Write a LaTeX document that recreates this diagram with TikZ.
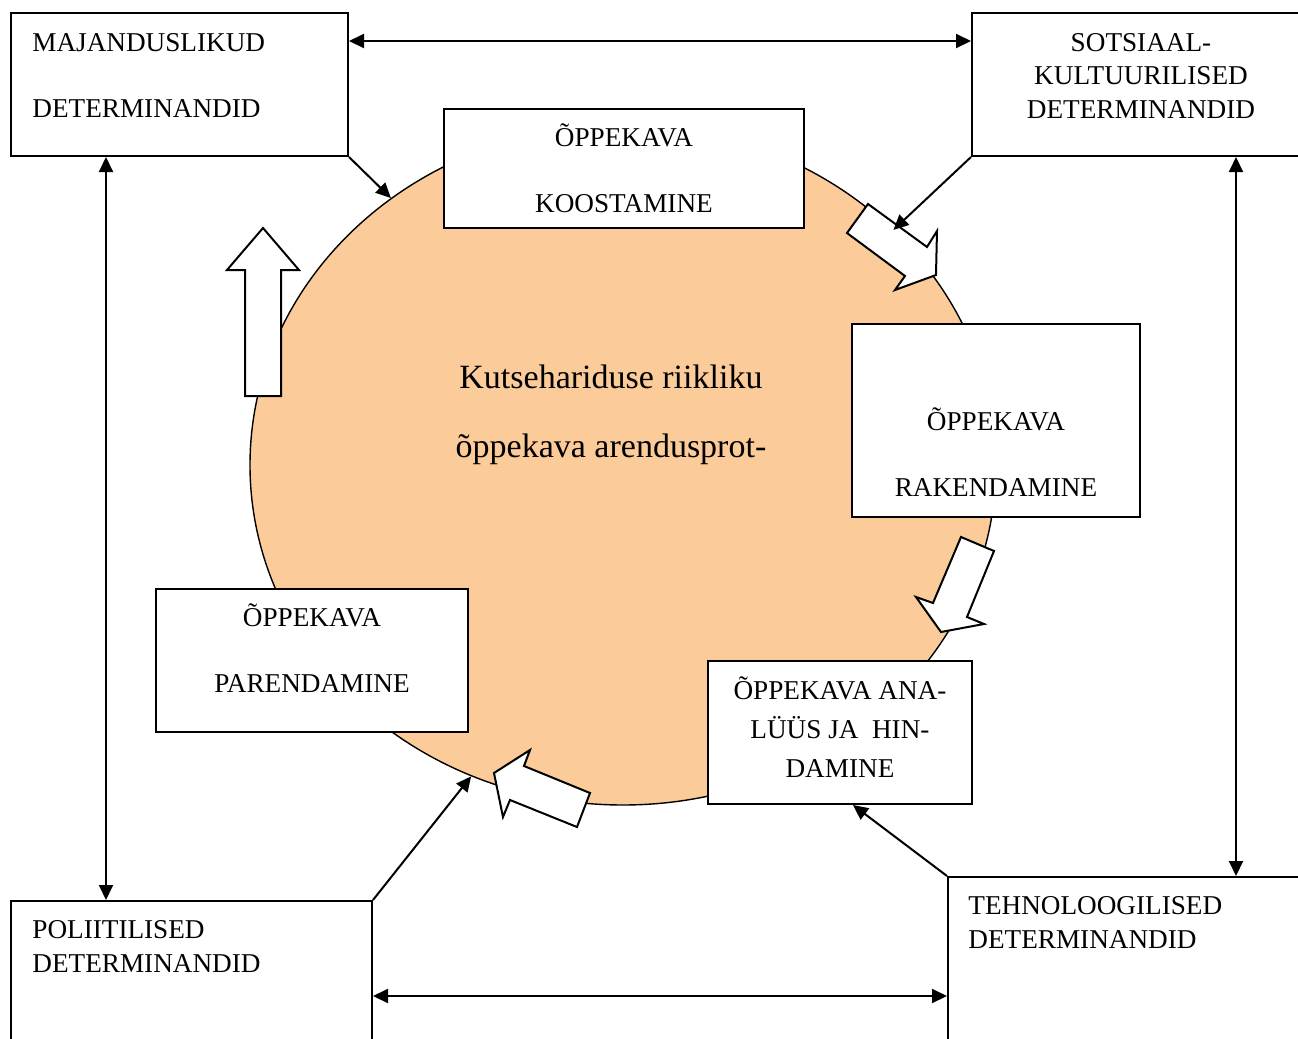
\documentclass[tikz,border=0pt]{standalone}
\usepackage{fontspec}
\setmainfont{Liberation Serif}
\usetikzlibrary{arrows.meta,shapes.geometric}
\definecolor{peach}{RGB}{251,203,153}

\begin{document}
\begin{tikzpicture}[x=0.5pt,y=-0.5pt,
  box/.style={draw,fill=white,line width=1pt,anchor=north west,inner sep=0pt},
  txt/.style={inner sep=0pt,anchor=base,align=center,font=\fontsize{13.6}{33}\selectfont},
  tight/.style={font=\fontsize{13.6}{16.75}\selectfont},
  link/.style={line width=1pt,-{Triangle[length=7.5pt,width=7pt]}},
  both/.style={line width=1pt,{Triangle[length=7.5pt,width=7pt]}-{Triangle[length=7.5pt,width=7pt]}},
  flow/.style={draw,fill=white,line width=1pt,line join=miter}]
  \useasboundingbox (0,0) rectangle (1298,1039);

  \node[ellipse,draw,fill=peach,line width=0.7pt,inner sep=0pt,
        minimum width=373pt,minimum height=340pt] (proc) at (623,465) {};

  % determinants and steps
  \node[box,minimum width=168.5pt,minimum height=71.5pt] (maj) at (10,12) {};
  \node[box,minimum width=169pt,minimum height=71.5pt] (sots) at (971,12) {};
  \node[box,minimum width=180pt,minimum height=59.5pt] (koost) at (443,108) {};
  \node[box,minimum width=144pt,minimum height=96.5pt] (rakend) at (851,323) {};
  \node[box,minimum width=132pt,minimum height=71.5pt] (anal) at (707,660) {};
  \node[box,minimum width=156pt,minimum height=71.5pt] (parend) at (155,588) {};
  \node[box,minimum width=180.5pt,minimum height=75pt] (poliit) at (10,900) {};
  \node[box,minimum width=181pt,minimum height=90pt] (tehno) at (947,876) {};

  % cycle arrows
  \draw[flow] (245,396) -- (245,270) -- (227,270) -- (263,228) -- (299,270) -- (281,270) -- (281,396) -- cycle;
  \draw[flow] (868,204) -- (927,247) -- (937,231) -- (936,275) -- (895,290) -- (905,276) -- (847,233) -- cycle;
  \draw[flow] (961,537) -- (994,551) -- (967,617) -- (984,624) -- (941,632) -- (916,597) -- (933,603) -- cycle;
  \draw[flow] (494,773) -- (530,750) -- (524,766) -- (590,793) -- (577,827) -- (510,800) -- (503,817) -- cycle;

  \node[txt,anchor=base west,align=left] (majtxt) at ([xshift=11pt,yshift=-52.5pt]maj.north west) {MAJANDUSLIKUD\\DETERMINANDID};
  \node[txt,tight] (sotstxt) at ([yshift=-53pt]sots.north) {SOTSIAAL-\\KULTUURILISED\\DETERMINANDID};
  \node[txt] (koosttxt) at ([yshift=-52pt]koost.north) {ÕPPEKAVA\\KOOSTAMINE};
  \node[txt] (rakendtxt) at ([yshift=-86.5pt]rakend.north) {ÕPPEKAVA\\RAKENDAMINE};
  \node[txt,font=\fontsize{13.6}{19.5}\selectfont] (analtxt) at ([yshift=-58.5pt]anal.north) {ÕPPEKAVA ANA-\\LÜÜS JA\ \ HIN-\\DAMINE};
  \node[txt] (parendtxt) at ([yshift=-52pt]parend.north) {ÕPPEKAVA\\PARENDAMINE};
  \node[txt,tight,anchor=base west,align=left] (poliittxt) at ([xshift=11pt,yshift=-36pt]poliit.north west) {POLIITILISED\\DETERMINANDID};
  \node[txt,tight,anchor=base west,align=left] (tehnotxt) at ([xshift=10.5pt,yshift=-36pt]tehno.north west) {TEHNOLOOGILISED\\DETERMINANDID};
  \node[txt,font=\fontsize{17}{34.5}\selectfont] (proctxt) at ([xshift=-6pt,yshift=4pt]proc.center) {Kutsehariduse riikliku\\õppekava arendusprot-};

  % links
  \draw[both] ([yshift=-14.5pt]maj.north east) -- ([yshift=-14.5pt]sots.north west);
  \draw[both] ([xshift=48pt]maj.south west) -- ([xshift=48pt]poliit.north west);
  \draw[both] ([xshift=132.5pt]sots.south west) -- ([xshift=144.5pt]tehno.north west);
  \draw[both] ([yshift=-48pt]poliit.north east) -- ([yshift=-60pt]tehno.north west);
  \draw[link] (maj.south east) -- (proc.131);
  \draw[link] (sots.south west) -- (proc.41);
  \draw[link] (poliit.north east) -- (proc.244);
  \draw[link] (tehno.north west) -- ([xshift=6.5pt]anal.south);
\end{tikzpicture}
\end{document}
